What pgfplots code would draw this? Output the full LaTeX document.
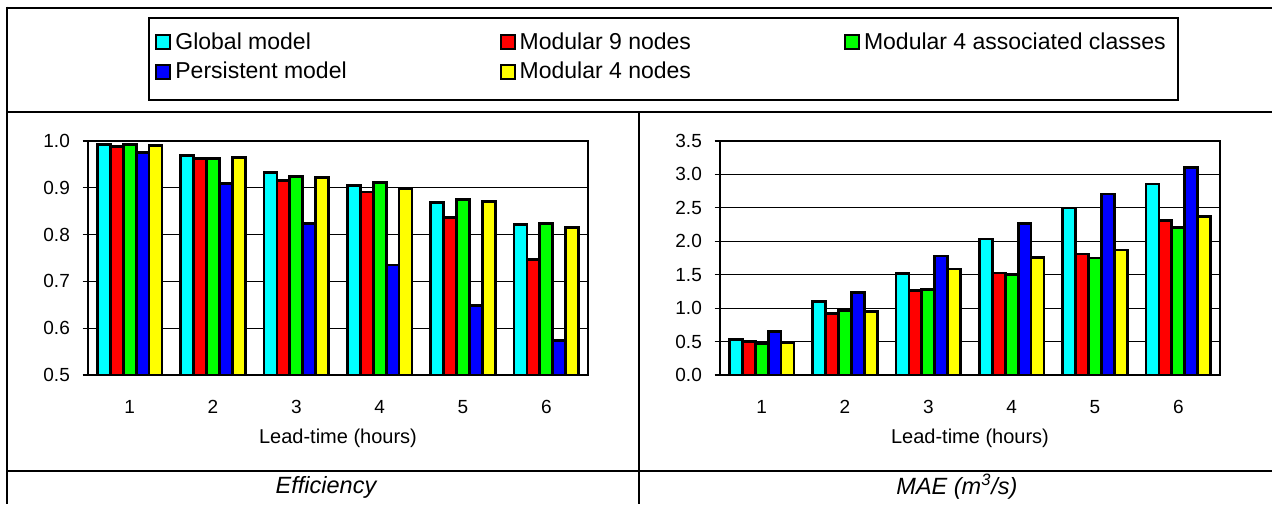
\documentclass[border=0pt]{standalone}
\usepackage{fontspec}
\setmainfont{Liberation Sans}
\usepackage{pgfplots}
\usepackage{pgfplotstable}
\pgfplotsset{compat=1.18}

\definecolor{bcyan}{RGB}{0,255,255}
\definecolor{bred}{RGB}{255,0,0}
\definecolor{bgreen}{RGB}{0,255,0}
\definecolor{bblue}{RGB}{0,0,255}
\definecolor{byellow}{RGB}{255,255,0}

\newcommand\tickfont{\fontsize{9.5}{11.5}\selectfont}
\newcommand\labfont{\fontsize{9.75}{11.5}\selectfont}
\newcommand\legfont{\fontsize{11.5}{13.5}\selectfont}
\newcommand\capfont{\fontsize{11.75}{14}\selectfont}

\pgfplotstableread{
x glob mod9 mod4a pers mod4n
1 0.993 0.988 0.993 0.975 0.990
2 0.969 0.962 0.963 0.910 0.965
3 0.933 0.915 0.924 0.824 0.922
4 0.905 0.891 0.912 0.735 0.898
5 0.868 0.836 0.875 0.649 0.870
6 0.821 0.746 0.824 0.574 0.816
}\effdata

\pgfplotstableread{
x glob mod9 mod4a pers mod4n
1 0.526 0.500 0.470 0.645 0.486
2 1.100 0.922 0.962 1.235 0.952
3 1.517 1.269 1.274 1.780 1.586
4 2.033 1.527 1.507 2.266 1.755
5 2.499 1.810 1.750 2.707 1.869
6 2.856 2.315 2.211 3.109 2.370
}\maedata

\pgfplotsset{
  common/.style={
    scale only axis, width=250pt, height=117pt,
    ybar, bar width=0.155,
    xmin=0.5, xmax=6.5,
    xtick={1,...,6}, xticklabels={1,2,3,4,5,6},
    xtick style={draw=none},
    minor xtick={0.5,1.5,...,6.5},
    tick align=outside, tick pos=left,
    major tick length=2.75pt, minor tick length=3.75pt,
    ymajorgrids, major grid style={black, line width=0.5pt},
    axis line style={black, line width=0.6pt},
    minor tick style={black, line width=0.6pt},
    ytick style={black, line width=0.6pt},
    ticklabel style={font=\tickfont},
    xticklabel style={yshift=-6.5pt},
    yticklabel style={xshift=-2.8pt, /pgf/number format/fixed, /pgf/number format/fixed zerofill, /pgf/number format/precision=1},
    label style={font=\labfont},
    every axis x label/.style={at={(axis description cs:0.5,0)}, anchor=center, yshift=-31.5pt},
    xlabel={Lead-time (hours)},
    /pgf/number format/assume math mode=true,
    every axis plot post/.append style={draw=black, line width=1.4pt},
    legend image code/.code={\draw[#1, draw=black, line width=1pt] (0pt,-3.5pt) rectangle (7pt,3.5pt);},
  },
  bs/.style={fill=#1, draw=black},
}

\begin{document}
\begin{tikzpicture}
\path[use as bounding box] (0,0) rectangle (636pt,252pt);

% table lines
\draw[line width=1.4pt] (3.5pt,248pt) -- (636pt,248pt);
\draw[line width=0.7pt] (3.5pt,248.7pt) -- (3.5pt,0pt);
\draw[line width=1.4pt] (3.5pt,196pt) -- (636pt,196pt);
\draw[line width=0.8pt] (319.5pt,196pt) -- (319.5pt,0pt);
\draw[line width=1.1pt] (3.5pt,16.7pt) -- (636pt,16.7pt);
% legend frame
\draw[line width=0.6pt] (74.5pt,243pt) rectangle (589pt,202pt);
\node[font=\capfont\itshape] at (163pt,8.5pt) {Efficiency};
\node[font=\capfont\itshape] at (478.5pt,8.5pt) {MAE (m\textsuperscript{3}/s)};

\begin{axis}[common, at={(44pt,64.5pt)}, anchor=south west,
  ymin=0.5, ymax=1.0, ytick={0.5,0.6,...,1.0},
  legend columns=3,
  legend style={at={(axis description cs:0.122,1.5256)}, anchor=north west, draw=none, fill=none,
    font=\legfont, cells={anchor=west},
    /tikz/every even column/.append style={column sep=74.5pt},
    row sep=1pt, inner xsep=3pt, inner ysep=5pt},
]
\addplot[bs=bcyan, bar shift=-0.31] table[x=x,y=glob] {\effdata};
\addlegendentry{Global model}
\addplot[bs=bred, bar shift=-0.155] table[x=x,y=mod9] {\effdata};
\addlegendentry{Modular 9 nodes}
\addplot[bs=bgreen, bar shift=0] table[x=x,y=mod4a] {\effdata};
\addlegendentry{Modular 4 associated classes}
\addplot[bs=bblue, bar shift=0.155] table[x=x,y=pers] {\effdata};
\addlegendentry{Persistent model}
\addplot[bs=byellow, bar shift=0.31] table[x=x,y=mod4n] {\effdata};
\addlegendentry{Modular 4 nodes}
\end{axis}

\begin{axis}[common, at={(360pt,64.5pt)}, anchor=south west,
  ymin=0, ymax=3.5, ytick={0,0.5,...,3.5},
]
\addplot[bs=bcyan, bar shift=-0.31] table[x=x,y=glob] {\maedata};
\addplot[bs=bred, bar shift=-0.155] table[x=x,y=mod9] {\maedata};
\addplot[bs=bgreen, bar shift=0] table[x=x,y=mod4a] {\maedata};
\addplot[bs=bblue, bar shift=0.155] table[x=x,y=pers] {\maedata};
\addplot[bs=byellow, bar shift=0.31] table[x=x,y=mod4n] {\maedata};
\end{axis}
\end{tikzpicture}
\end{document}
